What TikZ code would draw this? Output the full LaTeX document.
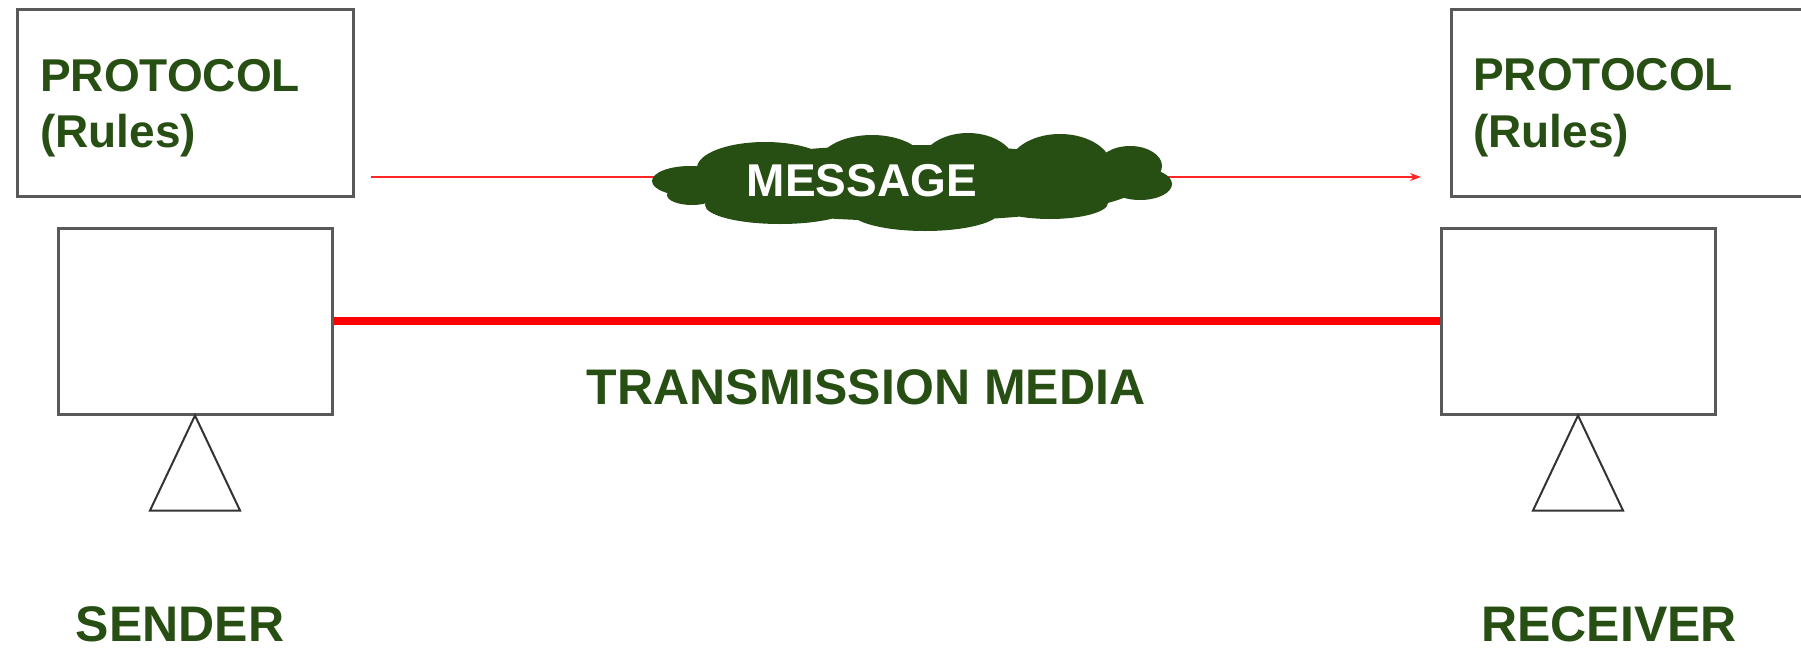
\documentclass[tikz,border=0pt]{standalone}
\usepackage{fontspec}
\setmainfont{Liberation Sans}
\usetikzlibrary{arrows.meta}
\definecolor{dgreen}{HTML}{274E13}
\definecolor{boxgray}{HTML}{595959}
\begin{document}
\begin{tikzpicture}[x=1pt,y=-1pt,
  box/.style={draw=boxgray,line width=3pt,minimum width=#1,inner sep=0pt,fill=white},
  lbl/.style={text=dgreen,font=\fontsize{46}{56}\selectfont\bfseries,inner sep=0pt},
  biglbl/.style={lbl,font=\fontsize{50}{60}\selectfont\bfseries},
  stand/.style={draw=black!80,line width=2pt,line join=miter,fill=white}]
\clip (0,0) rectangle (1801,648);
\useasboundingbox (0,0) rectangle (1801,648);
% protocol boxes
\node[box=336pt,minimum height=187pt] (p1) at (185,102.5) {};
\node[box=400pt,minimum height=187pt,anchor=west] (p2) at (1450,102.5) {};
\node[lbl,anchor=base west] (p1a) at (40,91) {PROTOCOL};
\node[lbl,anchor=base west] (p1b) at (40,147) {(Rules)};
\node[lbl,anchor=base west] (p2a) at (1473,90) {PROTOCOL};
\node[lbl,anchor=base west] (p2b) at (1473,147) {(Rules)};
% message arrow
\coordinate (ms) at (371,177);
\coordinate (me) at (1421,177);
\draw[red!85,line width=1.5pt,-{Stealth[length=11pt,width=8pt]}] (ms) -- (me);
% cloud
\fill[dgreen]
  (912,183) ellipse [x radius=230,y radius=38]
  (690,181) ellipse [x radius=38,y radius=15]
  (692,195) ellipse [x radius=25,y radius=10]
  (765,168) ellipse [x radius=68,y radius=26]
  (872,166) ellipse [x radius=55,y radius=31]
  (968,166) ellipse [x radius=48,y radius=33]
  (1060,168) ellipse [x radius=52,y radius=34]
  (1130,166) ellipse [x radius=32,y radius=20]
  (1140,184) ellipse [x radius=32,y radius=16]
  (780,205) ellipse [x radius=75,y radius=19]
  (925,211) ellipse [x radius=75,y radius=20]
  (1050,203) ellipse [x radius=58,y radius=16];
\node[lbl,text=white] (msg) at (862,181) {MESSAGE};
% devices
\node[box=274pt,minimum height=186pt] (snd) at (195,321) {};
\node[box=274pt,minimum height=186pt] (rcv) at (1578,321) {};
\draw[red,line width=8pt] (snd.east) -- (rcv.west);
\draw[stand] (snd.south) -- ++(45,95) -- ++(-90,0) -- cycle;
\draw[stand] (rcv.south) -- ++(45,95) -- ++(-90,0) -- cycle;
\node[biglbl,anchor=base] (tm) at (866,404) {TRANSMISSION MEDIA};
\node[biglbl,anchor=base] (sl) at (180,641) {SENDER};
\node[biglbl,anchor=base] (rl) at (1609,641) {RECEIVER};
\end{tikzpicture}
\end{document}
